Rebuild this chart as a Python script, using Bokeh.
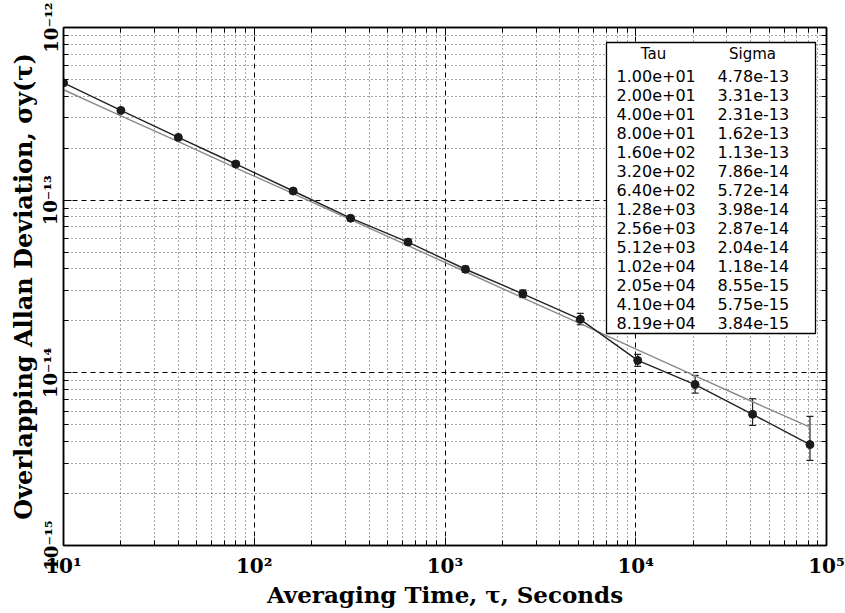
from bokeh.plotting import figure
from bokeh.models import FixedTicker, LogAxis, Whisker, TeeHead, ColumnDataSource
from bokeh.core.properties import value
from bokeh.embed import file_html
from bokeh.resources import INLINE
import math

# ---- data ----
tau = [10, 20, 40, 80, 160, 320, 640, 1280, 2560, 5120, 10240, 20480, 40960, 81920]
sigma = [4.78e-13, 3.31e-13, 2.31e-13, 1.62e-13, 1.13e-13, 7.86e-14, 5.72e-14,
         3.98e-14, 2.87e-14, 2.04e-14, 1.18e-14, 8.55e-15, 5.75e-15, 3.84e-15]
sigma_lo = [4.70e-13, 3.25e-13, 2.26e-13, 1.58e-13, 1.10e-13, 7.62e-14, 5.52e-14,
            3.82e-14, 2.73e-14, 1.90e-14, 1.09e-14, 7.63e-15, 4.96e-15, 3.11e-15]
sigma_hi = [4.86e-13, 3.37e-13, 2.36e-13, 1.66e-13, 1.16e-13, 8.10e-14, 5.92e-14,
            4.14e-14, 3.02e-14, 2.21e-14, 1.28e-14, 9.66e-15, 7.08e-15, 5.59e-15]
sigma_ref = [4.36e-13, 3.08e-13, 2.18e-13, 1.54e-13, 1.09e-13, 7.71e-14, 5.45e-14,
             3.85e-14, 2.72e-14, 1.93e-14, 1.36e-14, 9.60e-15, 6.80e-15, 4.85e-15]

x_ticks = [10, 100, 1000, 10000, 100000]
x_tick_labels = ["10¹", "10²", "10³", "10⁴", "10⁵"]
y_ticks = [1e-15, 1e-14, 1e-13, 1e-12]
y_tick_labels = ["10⁻¹⁵", "10⁻¹⁴", "10⁻¹³", "10⁻¹²"]

table_header = ["Tau", "Sigma"]
tau_text = [f"{t:.2e}" for t in tau]
sigma_text = [f"{s:.2e}" for s in sigma]

# ---- layout (pixels) ----
W, H = 845, 613
FL, FR, FT, FB = 63, 826, 27, 545
XMIN, XMAX = 10, 1e5
YMIN, YMAX = 1e-15, 1e-12

def px_x(px):
    return 10 ** (math.log10(XMIN) + (math.log10(XMAX) - math.log10(XMIN)) * (px - FL) / (FR - FL))

def px_y(py):
    return 10 ** (math.log10(YMAX) - (math.log10(YMAX) - math.log10(YMIN)) * (py - FT) / (FB - FT))

p = figure(width=W, height=H, x_axis_type="log", y_axis_type="log",
           x_range=(XMIN, XMAX), y_range=(YMIN, YMAX),
           output_backend="svg", toolbar_location=None,
           min_border_left=FL, min_border_right=W - FR,
           min_border_top=FT, min_border_bottom=H - FB)
p.background_fill_color = "white"
p.border_fill_color = "white"
p.outline_line_color = "black"
p.outline_line_width = 1.5

def minor(ticks):
    out = []
    for t in ticks[:-1]:
        out += [t * k for k in range(2, 10)]
    return out

xticker = FixedTicker(ticks=x_ticks, minor_ticks=minor(x_ticks))
yticker = FixedTicker(ticks=y_ticks, minor_ticks=minor(y_ticks))

serif = "DejaVu Serif"

def style_axis(ax, ticker):
    ax.ticker = ticker
    ax.axis_line_color = "black"
    ax.axis_line_width = 1.5
    ax.major_tick_in = 8
    ax.major_tick_out = 0
    ax.minor_tick_in = 5
    ax.minor_tick_out = 0
    ax.major_tick_line_color = "black"
    ax.minor_tick_line_color = "black"

xa = p.xaxis[0]
style_axis(xa, xticker)
xa.major_label_overrides = dict(zip(x_ticks, x_tick_labels))
xa.major_label_text_font = serif
xa.major_label_text_font_style = "bold"
xa.major_label_text_font_size = "20px"
xa.major_label_text_color = "black"
xa.major_label_standoff = 8
xa.axis_label = "Averaging Time, τ, Seconds"
xa.axis_label_text_font = serif
xa.axis_label_text_font_style = "bold"
xa.axis_label_text_font_size = "23px"
xa.axis_label_text_color = "black"
xa.axis_label_standoff = 0

ya = p.yaxis[0]
style_axis(ya, yticker)
ya.major_label_overrides = dict(zip(y_ticks, y_tick_labels))
ya.major_label_orientation = "vertical"
ya.major_label_text_font = serif
ya.major_label_text_font_style = "bold"
ya.major_label_text_font_size = "18px"
ya.major_label_text_color = "black"
ya.major_label_standoff = 2
ya.axis_label = "Overlapping Allan Deviation, σy(τ)"
ya.axis_label_text_font = serif
ya.axis_label_text_font_style = "bold"
ya.axis_label_text_font_size = "24px"
ya.axis_label_text_color = "black"
ya.axis_label_standoff = 0

top = LogAxis()
style_axis(top, xticker)
top.major_label_text_font_size = "6px"
top.major_label_text_color = None
top.major_label_standoff = 0
p.add_layout(top, "above")
right = LogAxis()
style_axis(right, yticker)
right.major_label_text_font_size = "6px"
right.major_label_text_color = None
right.major_label_standoff = 0
p.add_layout(right, "right")

for g, tk in ((p.xgrid[0], xticker), (p.ygrid[0], yticker)):
    g.ticker = tk
    g.grid_line_color = "black"
    g.grid_line_dash = "5 4"
    g.grid_line_width = 1
    g.minor_grid_line_color = "black"
    g.minor_grid_line_dash = "1 3"
    g.minor_grid_line_width = 1
    g.minor_grid_line_alpha = 0.7

src = ColumnDataSource(dict(tau=tau, sigma=sigma, lo=sigma_lo, hi=sigma_hi, ref=sigma_ref))

p.line("tau", "ref", source=src, line_color="#8a8a8a", line_width=1.4)
p.line("tau", "sigma", source=src, line_color="#222222", line_width=1.4)
wh = Whisker(base="tau", lower="lo", upper="hi", source=src, dimension="height",
             line_color="#222222", line_width=1.2,
             upper_head=TeeHead(size=7, line_color="#222222", line_width=1.2),
             lower_head=TeeHead(size=7, line_color="#222222", line_width=1.2))
p.add_layout(wh)
p.scatter("tau", "sigma", source=src, size=8, fill_color="#1a1a1a", line_color="#1a1a1a")

# ---- table box ----
p.quad(left=[px_x(606)], right=[px_x(815)], top=[px_y(42)], bottom=[px_y(333)],
       fill_color="white", line_color="black", line_width=1.3)
sans = value("DejaVu Sans")
p.text(x=[px_x(653), px_x(752)], y=[px_y(53)] * 2, text=table_header,
       text_align="center", text_baseline="middle", text_font=sans,
       text_font_size="15px", text_color="black")
row_y = [px_y(75 + 19 * i) for i in range(len(tau))]
p.text(x=[px_x(616)] * len(tau), y=row_y, text=tau_text, text_align="left",
       text_baseline="middle", text_font=sans, text_font_size="16px", text_color="black")
p.text(x=[px_x(717)] * len(tau), y=row_y, text=sigma_text, text_align="left",
       text_baseline="middle", text_font=sans, text_font_size="16px", text_color="black")

open("out.html", "w").write(file_html(p, INLINE))
